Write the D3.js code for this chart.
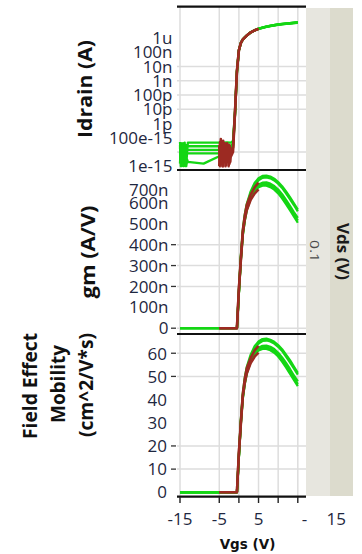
<!DOCTYPE html>
<html>
<head>
<meta charset="utf-8">
<script src="https://cdn.jsdelivr.net/npm/d3@7"></script>
<style>
  html, body { margin: 0; padding: 0; background: #fff; }
  svg { display: block; }
</style>
</head>
<body>
<svg id="chart" width="362" height="554"></svg>
<script>
// Gate sweep, Vds = 0.1 V: drain current, transconductance and field-effect mobility

// green devices: full sweep -15 V .. 15 V
const greenVgs = [-15,-14.8,-14.6,-14.4,-14.2,-14,-13.8,-13.6,-13.4,-13.2,-13,-9,-5,-3,-2,-1.5,-1,-0.5,
                  0,0.5,1,1.5,2,3,4,5,6,7,8,9,10,11,12,13,14,15];

const greenId = [
  [2e-14,3e-15,4e-14,1.2e-15,3e-14,5e-15,4.5e-14,2e-15,3e-14,9e-15,4.5e-14,4.5e-14,4.5e-14,4.6e-14,4.5e-14,6e-14,7e-12,5e-9,
   1.45e-7,4.6e-7,8.2e-7,1.12e-6,1.52e-6,2.55e-6,3.55e-6,4.55e-6,5.5e-6,6.4e-6,7.3e-6,8.2e-6,9e-6,9.9e-6,1.06e-5,1.13e-5,1.21e-5,1.3e-5],
  [8e-15,4e-14,1e-15,2.5e-14,3e-15,3.5e-14,1.5e-15,2e-14,6e-15,3e-14,2.5e-14,2.5e-14,2.5e-14,2.5e-14,2.6e-14,4e-14,5e-12,4.5e-9,
   1.4e-7,4.5e-7,8e-7,1.1e-6,1.5e-6,2.5e-6,3.5e-6,4.5e-6,5.4e-6,6.3e-6,7.2e-6,8.1e-6,8.9e-6,9.7e-6,1.04e-5,1.11e-5,1.18e-5,1.26e-5],
  [3e-14,1e-15,2e-14,6e-15,4e-14,1e-15,1.5e-14,4e-15,2e-14,1.2e-14,1.4e-14,1.4e-14,1.4e-14,1.4e-14,1.5e-14,3e-14,4.5e-12,4.2e-9,
   1.35e-7,4.4e-7,7.8e-7,1.08e-6,1.47e-6,2.45e-6,3.4e-6,4.35e-6,5.2e-6,6.1e-6,6.95e-6,7.8e-6,8.6e-6,9.3e-6,1e-5,1.07e-5,1.13e-5,1.19e-5],
  [1.5e-15,3.5e-14,7e-15,2e-14,1e-15,2.5e-14,3e-15,1e-14,1.5e-15,8e-15,8e-15,8e-15,8e-15,8e-15,9e-15,2.5e-14,4e-12,4e-9,
   1.38e-7,4.45e-7,7.9e-7,1.09e-6,1.48e-6,2.48e-6,3.45e-6,4.4e-6,5.3e-6,6.2e-6,7.05e-6,7.9e-6,8.7e-6,9.5e-6,1.02e-5,1.09e-5,1.15e-5,1.22e-5],
  [5e-14,4e-15,1.8e-14,1.2e-15,4e-14,8e-15,2e-14,1e-15,1e-15,3e-15,2e-15,1.5e-15,5e-15,6e-15,8e-15,2e-14,3.5e-12,3.8e-9,
   1.33e-7,4.35e-7,7.7e-7,1.07e-6,1.45e-6,2.42e-6,3.35e-6,4.3e-6,5.15e-6,6e-6,6.85e-6,7.7e-6,8.5e-6,9.2e-6,9.9e-6,1.05e-5,1.12e-5,1.18e-5]
];

const greenGm = [
  [0,0,0,0,0,0,0,0,0,0,0,0,0,0,0,0,0,0,
   180e-9,345e-9,470e-9,545e-9,595e-9,655e-9,695e-9,718e-9,729e-9,731e-9,726e-9,716e-9,700e-9,680e-9,655e-9,628e-9,598e-9,568e-9],
  [0,0,0,0,0,0,0,0,0,0,0,0,0,0,0,0,0,0,
   175e-9,340e-9,462e-9,535e-9,585e-9,645e-9,685e-9,708e-9,720e-9,722e-9,718e-9,708e-9,692e-9,672e-9,646e-9,618e-9,590e-9,560e-9],
  [0,0,0,0,0,0,0,0,0,0,0,0,0,0,0,0,0,0,
   170e-9,330e-9,450e-9,520e-9,570e-9,628e-9,662e-9,682e-9,690e-9,690e-9,684e-9,672e-9,655e-9,632e-9,604e-9,575e-9,545e-9,515e-9],
  [0,0,0,0,0,0,0,0,0,0,0,0,0,0,0,0,0,0,
   172e-9,333e-9,455e-9,525e-9,575e-9,632e-9,668e-9,688e-9,697e-9,698e-9,692e-9,681e-9,664e-9,642e-9,615e-9,586e-9,556e-9,528e-9],
  [0,0,0,0,0,0,0,0,0,0,0,0,0,0,0,0,0,0,
   168e-9,327e-9,446e-9,515e-9,565e-9,622e-9,656e-9,675e-9,683e-9,683e-9,676e-9,664e-9,646e-9,622e-9,594e-9,565e-9,535e-9,505e-9]
];

const greenMob = [
  [0,0,0,0,0,0,0,0,0,0,0,0,0,0,0,0,0,0,
   16.3,31.3,42.6,49.4,54.0,59.4,63.0,65.1,66.1,66.3,65.8,64.9,63.5,61.7,59.4,57.0,54.2,51.5],
  [0,0,0,0,0,0,0,0,0,0,0,0,0,0,0,0,0,0,
   15.9,30.8,41.9,48.5,53.1,58.5,62.1,64.2,65.3,65.5,65.1,64.2,62.8,61.0,58.6,56.1,53.5,50.8],
  [0,0,0,0,0,0,0,0,0,0,0,0,0,0,0,0,0,0,
   15.4,29.9,40.8,47.2,51.7,57.0,60.0,61.9,62.6,62.6,62.0,61.0,59.4,57.3,54.8,52.2,49.4,46.7],
  [0,0,0,0,0,0,0,0,0,0,0,0,0,0,0,0,0,0,
   15.6,30.2,41.3,47.6,52.2,57.3,60.6,62.4,63.2,63.3,62.8,61.8,60.2,58.2,55.8,53.2,50.4,47.9],
  [0,0,0,0,0,0,0,0,0,0,0,0,0,0,0,0,0,0,
   15.2,29.7,40.5,46.7,51.2,56.4,59.5,61.2,61.9,61.9,61.3,60.2,58.6,56.4,53.9,51.2,48.5,45.8]
];

// red devices: short sweep -5 V .. 5 V
const redVgs = [-5,-4.8,-4.6,-4.4,-4.2,-4,-3.8,-3.6,-3.4,-3.2,-3,-2.8,-2.6,-2.4,-2.2,-2,-1.5,-1,-0.5,
                0,0.5,1,1.5,2,3,4,5];

const redId = [
  [3e-14,1e-15,8e-14,2e-15,5e-14,1e-15,2e-14,3e-15,1e-14,1.2e-15,4e-14,2e-15,3e-14,1.5e-15,2e-14,5e-15,1e-14,5e-12,4.5e-9,
   1.42e-7,4.5e-7,8e-7,1.1e-6,1.5e-6,2.5e-6,3.5e-6,4.5e-6],
  [1e-15,5e-14,3e-15,2e-14,1e-15,6e-14,2e-15,4e-14,1e-15,2.5e-14,3e-15,1.5e-14,1e-15,3e-14,2e-15,1e-14,2e-14,6e-12,5e-9,
   1.4e-7,4.4e-7,7.9e-7,1.08e-6,1.48e-6,2.45e-6,3.4e-6,4.4e-6]
];

const redGm = [
  [0,0,0,0,0,0,0,0,0,0,0,0,0,0,0,0,0,0,0,
   190e-9,335e-9,470e-9,540e-9,590e-9,640e-9,675e-9,697e-9],
  [0,0,0,0,0,0,0,0,0,0,0,0,0,0,0,0,0,0,0,
   185e-9,325e-9,455e-9,520e-9,565e-9,615e-9,645e-9,665e-9]
];

const redMob = [
  [0,0,0,0,0,0,0,0,0,0,0,0,0,0,0,0,0,0,0,
   17.2,30.4,42.6,49.0,53.5,58.0,61.2,63.2],
  [0,0,0,0,0,0,0,0,0,0,0,0,0,0,0,0,0,0,0,
   16.8,29.5,41.3,47.2,51.2,55.8,58.5,60.3]
];

// axis ticks and labels
const idTickValues = [1e-6,1e-7,1e-8,1e-9,1e-10,1e-11,1e-12,1e-13,1e-15];
const idTickLabels = ["1u","100n","10n","1n","100p","10p","1p","100e-15","1e-15"];
const idGridValues = [1e-8,1e-9,1e-10,1e-11,1e-14];

const gmTickValues = [0,100e-9,200e-9,300e-9,400e-9,500e-9,600e-9,700e-9];
const gmTickLabels = ["0","100n","200n","300n","400n","500n","600n","700n"];
const gmGridValues = [0,200e-9,300e-9,400e-9];

const mobTickValues = [0,10,20,30,40,50,60];
const mobTickLabels = ["0","10","20","30","40","50","60"];
const mobGridValues = [10,20,50,60];

const xGridValues = [-15,-5,0,5,10,15];
const xTickLabelValues = [-15,-5,5,16.7,24.8];
const xTickLabels = ["-15","-5","5","-","15"];

const vdsValue = "0.1";

// ---------------------------------------------------------------
const svg = d3.select("#chart");
const PL = 177, PR = 306;
const GREEN = "#14d614", RED = "#9c2a22", GRID = "#dddddd", INK = "#1e2740";
const tickFont = "'Open Sans', 'Noto Sans', sans-serif";
const titleFont = "'Open Sans', 'Noto Sans', sans-serif";

const x = d3.scaleLinear().domain([-15, 15]).range([180, 297.8]);

const panels = [
  { top: 6.7, bottom: 170,
    y: d3.scaleLog().domain([Math.pow(10, -15.27), Math.pow(10, -3.8)]).range([170, 6.7]),
    ticks: idTickValues, labels: idTickLabels, grid: idGridValues, dashes: false, labelX: 172.5,
    green: greenId, red: redId },
  { top: 170, bottom: 334,
    y: d3.scaleLinear().domain([-27.8e-9, 757.7e-9]).range([334, 170]),
    ticks: gmTickValues, labels: gmTickLabels, grid: gmGridValues, dashes: true, labelX: 168.5,
    green: greenGm, red: redGm },
  { top: 334, bottom: 496.7,
    y: d3.scaleLinear().domain([-1.9, 68.3]).range([496.7, 334]),
    ticks: mobTickValues, labels: mobTickLabels, grid: mobGridValues, dashes: true, labelX: 167,
    green: greenMob, red: redMob }
];

// Vds strip on the right
svg.append("rect").attr("x", 306).attr("y", 8).attr("width", 24).attr("height", 488).attr("fill", "#e7e6df");
svg.append("rect").attr("x", 330).attr("y", 8).attr("width", 23).attr("height", 488).attr("fill", "#dcdbcd");

const defs = svg.append("defs");

panels.forEach((p, i) => {
  defs.append("clipPath").attr("id", "clip" + i)
    .append("rect").attr("x", PL).attr("y", p.top).attr("width", PR - PL).attr("height", p.bottom - p.top);

  const g = svg.append("g");

  // vertical grid
  g.selectAll(".vg").data(xGridValues).join("line")
    .attr("x1", d => x(d)).attr("x2", d => x(d))
    .attr("y1", p.top).attr("y2", p.bottom)
    .attr("stroke", GRID).attr("stroke-width", 1.5);

  // horizontal grid
  g.selectAll(".hg").data(p.grid).join("line")
    .attr("x1", PL).attr("x2", PR)
    .attr("y1", d => p.y(d)).attr("y2", d => p.y(d))
    .attr("stroke", GRID).attr("stroke-width", 1.5);

  // tick dashes
  if (p.dashes) {
    g.selectAll(".td").data(p.grid).join("line")
      .attr("x1", 171).attr("x2", 176)
      .attr("y1", d => p.y(d)).attr("y2", d => p.y(d))
      .attr("stroke", "#333").attr("stroke-width", 1.3);
  }

  // tick labels, kept inside the panel band
  g.selectAll(".tl").data(p.ticks).join("text")
    .attr("x", p.labelX)
    .attr("y", d => Math.max(p.y(d), p.top + 20))
    .attr("dy", "0.36em")
    .attr("text-anchor", "end")
    .attr("font-family", tickFont)
    .attr("font-size", 17)
    .attr("fill", INK)
    .text((d, k) => p.labels[k]);

  const line = d3.line().x(d => x(d[0])).y(d => p.y(d[1]));
  const data = svg.append("g").attr("clip-path", `url(#clip${i})`);

  p.green.forEach(series => {
    data.append("path")
      .datum(greenVgs.map((v, k) => [v, series[k]]))
      .attr("d", line).attr("fill", "none")
      .attr("stroke", GREEN).attr("stroke-width", 2.3)
      .attr("stroke-linejoin", "round");
  });
  p.red.forEach(series => {
    data.append("path")
      .datum(redVgs.map((v, k) => [v, series[k]]))
      .attr("d", line).attr("fill", "none")
      .attr("stroke", RED).attr("stroke-width", 2.6)
      .attr("stroke-linejoin", "round");
  });
});

// panel separators and bottom axis line
[6.7, 170, 334, 496.7].forEach(yv => {
  svg.append("line").attr("x1", PL).attr("x2", PR).attr("y1", yv).attr("y2", yv)
    .attr("stroke", "#111").attr("stroke-width", 2.2);
});

// x ticks and labels
svg.selectAll(".xt").data(xGridValues).join("line")
  .attr("x1", d => x(d)).attr("x2", d => x(d))
  .attr("y1", 497).attr("y2", 503)
  .attr("stroke", "#222").attr("stroke-width", 1.4);

svg.selectAll(".xl").data(xTickLabelValues).join("text")
  .attr("x", d => x(d)).attr("y", 525)
  .attr("text-anchor", "middle")
  .attr("font-family", tickFont).attr("font-size", 17)
  .attr("fill", INK)
  .text((d, k) => xTickLabels[k]);

svg.append("text")
  .attr("x", 247.5).attr("y", 549)
  .attr("text-anchor", "middle")
  .attr("font-family", "'DejaVu Sans', sans-serif").attr("font-weight", "bold")
  .attr("font-size", 13.5).attr("fill", "#111")
  .text("Vgs (V)");

// rotated titles
function vTitle(txt, bx, cy, len, size, angle, fill, weight) {
  svg.append("text")
    .attr("transform", `translate(${bx},${cy}) rotate(${angle})`)
    .attr("text-anchor", "middle")
    .attr("font-family", titleFont)
    .attr("font-weight", weight)
    .attr("font-size", size)
    .attr("fill", fill)
    .attr("textLength", len)
    .attr("lengthAdjust", "spacingAndGlyphs")
    .text(txt);
}
vTitle("Idrain (A)", 92, 89, 98, 19, -90, "#111", "bold");
vTitle("gm (A/V)", 95, 252, 93, 19, -90, "#111", "bold");
vTitle("Field Effect", 36.5, 386, 106, 19, -90, "#111", "bold");
vTitle("Mobility", 64.5, 384, 78, 19, -90, "#111", "bold");
vTitle("(cm^2/V*s)", 93, 385, 104, 19, -90, "#111", "bold");

vTitle("Vds (V)", 336.5, 251.5, 57, 16, 90, "#1a1a1a", "bold");
vTitle(vdsValue, 310, 251, 22, 12, 90, "#4a4a4a", "normal");
</script>
</body>
</html>
